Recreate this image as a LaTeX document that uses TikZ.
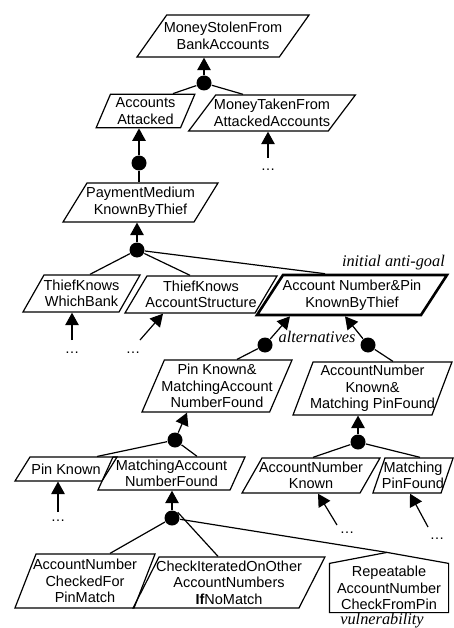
\documentclass[tikz,border=0pt]{standalone}
\usepackage{fontspec}
\setmainfont{Liberation Sans}
\newfontfamily\notefont{Liberation Serif}
\usetikzlibrary{arrows.meta,positioning,shapes.geometric}
\tikzset{lean/.code={\pgfmathsetmacro\leanright{180-#1}%
  \pgfkeysalso{/pgf/trapezium left angle=#1,/pgf/trapezium right angle/.expanded=\leanright}}}

\begin{document}
\begin{tikzpicture}[x=1pt,y=1pt,line width=1.2pt,>={Triangle[width=13.5pt,length=12.5pt]}]
	\tikzstyle{goal}
	  =[draw, trapezium, align=center, inner ysep=4.5pt,
	  font=\fontsize{14.5}{16.5}\selectfont]
	\tikzstyle{vuln}
	  =[rectangle, align=center, inner sep=0pt, minimum width=118pt,
	  minimum height=48pt, font=\fontsize{14.5}{16.5}\selectfont]
	\tikzstyle{andnode}=[circle, fill, inner sep=0pt, minimum size=15pt]
	\tikzstyle{more}=[inner sep=0pt, font=\fontsize{14.5}{16.5}\selectfont]
	\tikzstyle{note}=[inner sep=0pt, font=\notefont\itshape\fontsize{16.3}{18}\selectfont]

	\useasboundingbox (0,0) rectangle (453,-628);

	\node[goal, lean=54.7, inner xsep=-3pt, inner ysep=7.5pt] (ms)
	  at (223,-36) {MoneyStolenFrom\\BankAccounts};
	\node[goal, lean=66.9, inner xsep=5.2pt, inner ysep=3.5pt] (aa)
	  at (145.5,-111) {Accounts\\Attacked};
	\node[goal, lean=53.1, inner xsep=-1.8pt] (mt)
	  at (272,-113) {MoneyTakenFrom\\AttackedAccounts};
	\node[goal, lean=58.4, inner xsep=-0.9pt] (pm)
	  at (140.5,-202.5) {PaymentMedium\\KnownByThief};
	\node[goal, lean=60.4, inner xsep=-0.4pt, inner ysep=5pt] (tw)
	  at (81.5,-293.5) {ThiefKnows\\WhichBank};
	\node[goal, lean=59.3, inner xsep=-1.6pt, inner ysep=5pt] (ts)
	  at (201,-294.5) {ThiefKnows\\AccountStructure};
	\node[goal, lean=57, inner xsep=-0.3pt, inner ysep=5pt, line width=2.6pt] (ap)
	  at (352,-295) {Account Number\&Pin\\KnownByThief};
	\node[goal, lean=66.7, inner xsep=-3pt, inner ysep=4.2pt] (pk)
	  at (217,-386) {Pin Known\&\\MatchingAccount\\NumberFound};
	\node[goal, lean=69.3, inner xsep=-3pt, inner ysep=3.2pt] (ak)
	  at (372.5,-388.5) {AccountNumber\\Known\&\\Matching PinFound};
	\node[goal, lean=58, inner xsep=1.4pt, inner ysep=6.6pt] (pin)
	  at (66,-469) {Pin Known};
	\node[goal, lean=65.6, inner xsep=2.9pt, inner ysep=3pt] (mf)
	  at (171.5,-473.5) {MatchingAccount\\NumberFound};
	\node[goal, lean=60.3, inner xsep=-3pt, inner ysep=4pt] (an)
	  at (311,-475.5) {AccountNumber\\Known};
	\node[goal, lean=71, inner xsep=-3pt, inner ysep=4pt] (mp)
	  at (413,-475.5) {Matching\\PinFound};
	\node[goal, lean=68.7, inner xsep=-3pt, inner ysep=5.2pt] (ac)
	  at (85,-581) {AccountNumber\\CheckedFor\\PinMatch};
	\node[goal, lean=63, inner xsep=-3pt, inner ysep=3.7pt] (ci)
	  at (229,-582.5) {CheckIteratedOnOther\\AccountNumbers\\\textbf{If}NoMatch};
	\node[vuln] (rp)
	  at (389,-588) {Repeatable\\AccountNumber\\CheckFromPin};
	\coordinate (roof) at ([xshift=-2pt,yshift=11pt]rp.north);
	\draw (rp.south west) -- (rp.north west) -- (roof)
	  -- (rp.north east) -- (rp.south east) -- cycle;

	\node[note, anchor=base east] (antigoal)
	  at ([xshift=-4pt,yshift=7pt]ap.top right corner) {initial anti-goal};

	\node[andnode] (and1) at (204,-83) {};
	\node[andnode] (and2) at (139,-163) {};
	\node[andnode] (and3) at (137,-250) {};
	\node[andnode] (or1) at (265,-345) {};
	\node[andnode] (or2) at (368,-345) {};
	\node[andnode] (and4) at (175,-440) {};
	\node[andnode] (and5) at (172,-518) {};
	\node[andnode] (and6) at (358,-442) {};

	\node[note, anchor=base west] (alt)
	  at ([xshift=13pt,yshift=3pt]or1.center) {alternatives};
	\node[note, anchor=base] (vul)
	  at ([xshift=-7pt,yshift=-12pt]rp.south) {vulnerability};

	\draw[->] (and1) -- (and1 |- ms.south);
	\draw (and1) -- ([xshift=27.5pt]aa.north);
	\draw (and1) -- ([xshift=-29pt]mt.north);

	\coordinate (t1) at (268,-158);
	\draw[->] (t1) -- (t1 |- mt.south);
	\node[more] (m1) [below=10pt of t1] {\dots};

	\draw[->] (and2) -- (and2 |- aa.south);
	\draw (and2) -- (and2 |- pm.north);

	\draw[->] (and3) -- (and3 |- pm.south);
	\draw (and3) -- ([xshift=8.5pt]tw.north);
	\draw (and3) -- ([xshift=-11pt]ts.north);
	\draw (and3) -- ([xshift=-27pt]ap.north);

	\coordinate (t2) at (72,-340);
	\draw[->] (t2) -- (t2 |- tw.south);
	\node[more] (m2) [below=11pt of t2] {\dots};
	\coordinate (t3) at (140,-340);
	\draw[->] (t3) -- ([xshift=-38pt]ts.south);
	\node[more] (m3) [below=11pt of t3, xshift=-7pt] {\dots};

	\draw[->] (or1) -- ([xshift=-62pt]ap.south);
	\draw (or1) -- ([xshift=20pt]pk.north);
	\draw[->] (or2) -- ([xshift=-7pt]ap.south);
	\draw (or2) -- ([xshift=20.5pt]ak.north);

	\draw[->] (and4) -- ([xshift=-30pt]pk.south);
	\draw (and4) -- ([xshift=31pt]pin.north);
	\draw (and4) -- ([xshift=25.5pt]mf.north);

	\coordinate (t4) at (58,-512);
	\draw[->] (t4) -- (t4 |- pin.south);
	\node[more] (m4) [below=7pt of t4] {\dots};

	\draw[->] (and5) -- (and5 |- mf.south);
	\draw (and5) -- ([xshift=25pt]ac.north);
	\draw (and5.north east) -- ([xshift=-11pt]ci.north);
	\draw (and5) -- (roof);

	\draw[->] (and6) -- (and6 |- ak.south);
	\draw (and6) -- ([xshift=2pt]an.north);
	\draw (and6) -- ([xshift=7pt]mp.north);

	\coordinate (t5) at (337,-525);
	\draw[->] (t5) -- ([xshift=7pt]an.south);
	\node[more] (m5) [below=6pt of t5, xshift=10pt] {\dots};
	\coordinate (t6) at (428,-527);
	\draw[->] (t6) -- ([xshift=-3pt]mp.south);
	\node[more] (m6) [below=10pt of t6, xshift=9pt] {\dots};
\end{tikzpicture}
\end{document}
